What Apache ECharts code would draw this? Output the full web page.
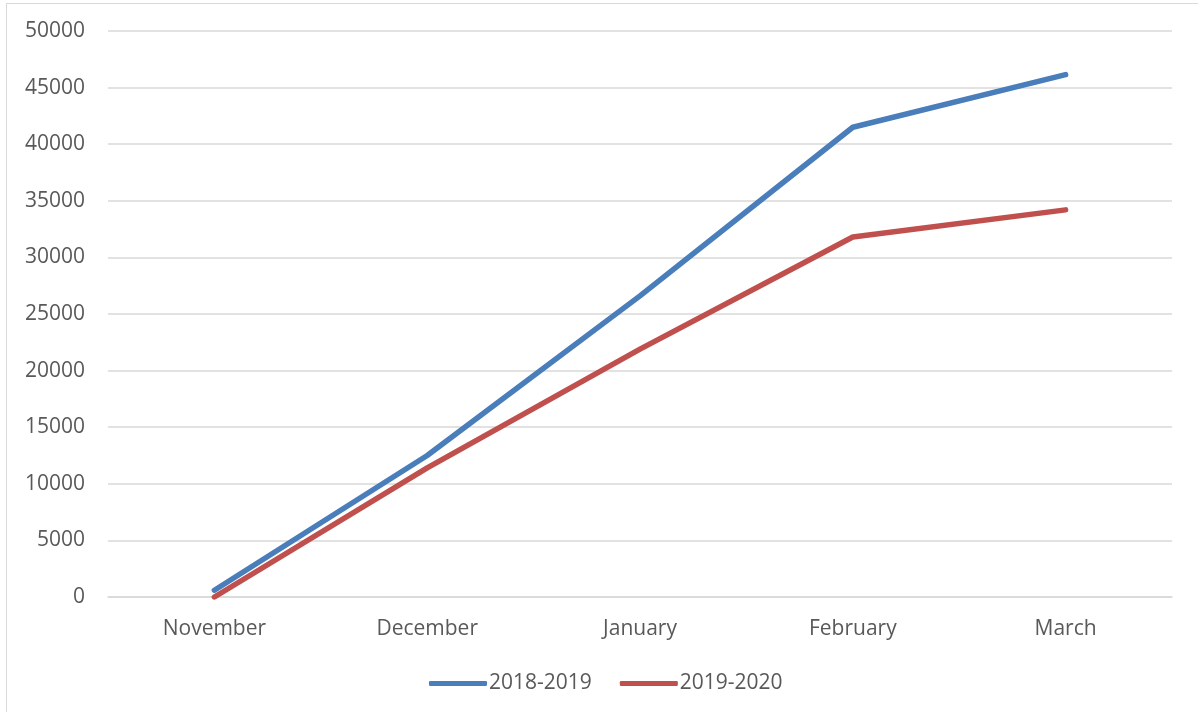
<!DOCTYPE html>
<html>
<head>
<meta charset="utf-8">
<script src="https://cdn.jsdelivr.net/npm/echarts@6/dist/echarts.min.js"></script>
<style>
html,body{margin:0;padding:0;background:#fff;}
#wrap{position:relative;width:1198px;height:712px;overflow:hidden;}
#frame{position:absolute;left:6px;top:3px;width:1300px;height:800px;border:1px solid #d9d9d9;box-sizing:border-box;}
#chart{position:absolute;left:0;top:0;width:1198px;height:712px;}
</style>
</head>
<body>
<div id="wrap"><div id="frame"></div><div id="chart"></div></div>
<script>
const categories = ['November', 'December', 'January', 'February', 'March'];
const series2018 = [600, 12500, 26600, 41500, 46150];
const series2019 = [0, 11400, 21900, 31800, 34200];
const seriesNames = ['2018-2019', '2019-2020'];

const chart = echarts.init(document.getElementById('chart'));
const font = '"Open Sans", "DejaVu Sans", sans-serif';
chart.setOption({
  animation: false,
  backgroundColor: 'transparent',
  grid: {left: 108, right: 26, top: 31, bottom: 115, containLabel: false},
  legend: {
    data: seriesNames,
    left: 424, top: 668,
    icon: 'roundRect',
    itemWidth: 58, itemHeight: 5,
    itemGap: 28,
    textStyle: {fontFamily: font, fontSize: 21, color: '#595959', padding: [0, 0, 0, -3]}
  },
  xAxis: {
    type: 'category',
    data: categories,
    boundaryGap: true,
    axisLine: {lineStyle: {color: '#d9d9d9', width: 1.5}},
    axisTick: {show: false},
    axisLabel: {fontFamily: font, fontSize: 21, color: '#595959', margin: 22}
  },
  yAxis: {
    type: 'value',
    min: 0, max: 50000, interval: 5000,
    axisLine: {show: false},
    axisTick: {show: false},
    splitLine: {lineStyle: {color: '#d9d9d9', width: 1.5}},
    axisLabel: {fontFamily: font, fontSize: 21, color: '#595959', margin: 23,
      formatter: function (v) { return String(v); }}
  },
  series: [
    {name: seriesNames[0], type: 'line', data: series2018, symbol: 'none',
     lineStyle: {color: '#4a7ebb', width: 5.5, cap: 'round', join: 'round'}, itemStyle: {color: '#4a7ebb'}},
    {name: seriesNames[1], type: 'line', data: series2019, symbol: 'none',
     lineStyle: {color: '#c0504d', width: 5.5, cap: 'round', join: 'round'}, itemStyle: {color: '#c0504d'}}
  ]
});
</script>
</body>
</html>
